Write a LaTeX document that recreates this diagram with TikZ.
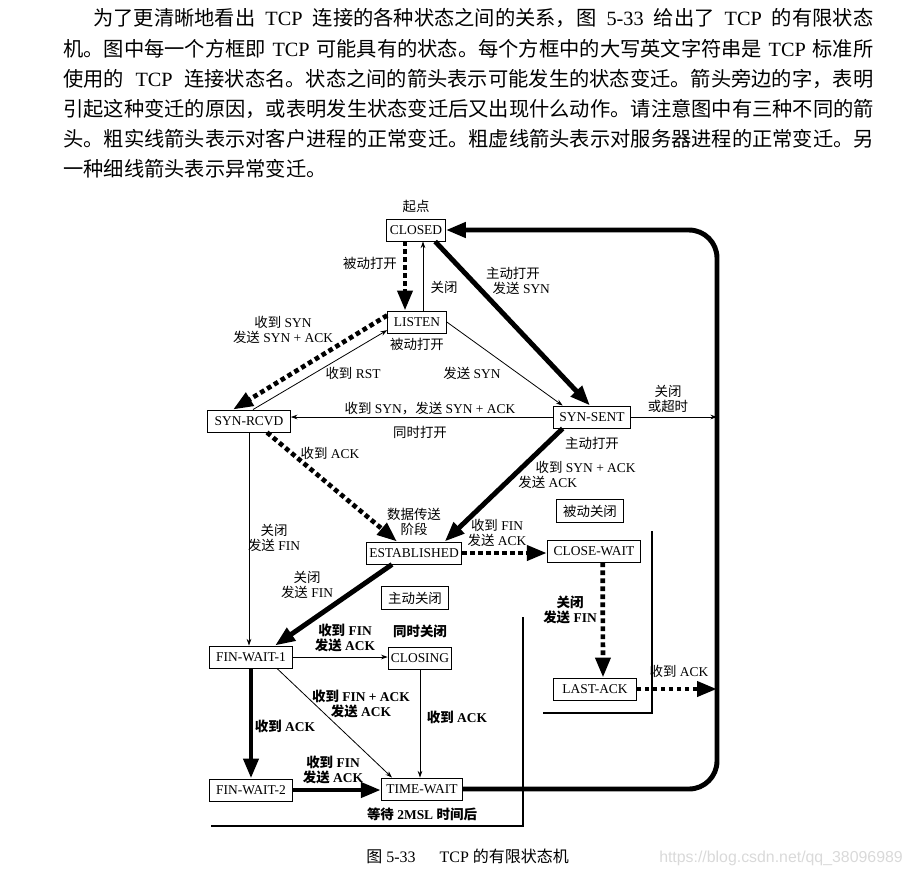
\documentclass[tikz,border=0pt]{standalone}
\usepackage{fontspec}
\setmainfont{Liberation Serif}
\newfontfamily\zhfont{Noto Sans CJK SC}
\newfontfamily\latinfont{Liberation Serif}
\newfontfamily\wmfont{Liberation Sans}
\usetikzlibrary{arrows.meta, positioning, calc}

\definecolor{markgray}{HTML}{D9D9D9}

% CJK runs switch to the CJK font by themselves
\XeTeXinterchartokenstate=1
\newXeTeXintercharclass\zhclass
\newcount\zhcount
\newcommand\zhrange[2]{\zhcount=#1\relax
   \loop\XeTeXcharclass\zhcount=\zhclass\advance\zhcount by 1\relax
   \ifnum\zhcount<#2\relax\repeat}
\zhrange{"3000}{"3040}\zhrange{"4E00}{"A000}\zhrange{"FF00}{"FFF0}
\XeTeXinterchartoks 0 \zhclass = {\zhfont}
\XeTeXinterchartoks 4095 \zhclass = {\zhfont}
\XeTeXinterchartoks \zhclass 0 = {\latinfont}
\XeTeXinterchartoks \zhclass 4095 = {\latinfont}

\newcommand\bodytext{\fontsize{15.2pt}{18pt}\selectfont}
\newcommand\diagtext{\fontsize{10.1pt}{11.8pt}\selectfont}
\newcommand\captext{\fontsize{12pt}{14pt}\selectfont}

\tikzset{
   state/.style={draw, line width=0.7pt, fill=white, font=\diagtext,
      minimum height=16.5pt, inner xsep=2pt, inner ysep=1pt},
   phase/.style={draw, line width=0.7pt, font=\diagtext, inner xsep=5pt, inner ysep=4pt},
   lbl/.style={font=\diagtext, align=center, inner sep=0pt},
   heavy/.style={lbl, font=\diagtext\bfseries},
   para/.style={font=\bodytext, inner sep=0pt, anchor=west},
   client/.style={line width=3.7pt, -{Triangle[length=15pt, width=11pt]}},
   server/.style={line width=3.5pt, dash pattern=on 3.5pt off 2.5pt,
      -{Triangle[length=15pt, width=11pt]}},
   other/.style={line width=0.6pt, -{Stealth[length=5pt, width=3.5pt]}},
   bracket/.style={line width=2pt}
}

\begin{document}
\begin{tikzpicture}[x=0.75pt, y=-0.75pt]
   \useasboundingbox (0,0) rectangle (913,876);
   % Paragraph
   \node[para] (line1) at (93,18) {\makebox[585pt][s]{为了更清晰地看出 TCP 连接的各种状态之间的关系，图 5-33 给出了 TCP 的有限状态}};
   \node[para] (line2) at (63,49) {\makebox[607.5pt][s]{机。图中每一个方框即 TCP 可能具有的状态。每个方框中的大写英文字符串是 TCP 标准所}};
   \node[para] (line3) at (63,79) {\makebox[607.5pt][s]{使用的 TCP 连接状态名。状态之间的箭头表示可能发生的状态变迁。箭头旁边的字，表明}};
   \node[para] (line4) at (63,109) {引起这种变迁的原因，或表明发生状态变迁后又出现什么动作。请注意图中有三种不同的箭};
   \node[para] (line5) at (63,139) {头。粗实线箭头表示对客户进程的正常变迁。粗虚线箭头表示对服务器进程的正常变迁。另};
   \node[para] (line6) at (63,169) {一种细线箭头表示异常变迁。};

   % States
   \node[state, minimum width=44pt] (closed) at (416,230) {CLOSED};
   \node[state, minimum width=44pt] (listen) at (417,322) {LISTEN};
   \node[state, minimum width=62pt] (synrcvd) at (249,421) {SYN-RCVD};
   \node[state, minimum width=58pt] (synsent) at (592,417) {SYN-SENT};
   \node[state, minimum width=70pt] (estab) at (414,553) {ESTABLISHED};
   \node[state, minimum width=70pt] (closewait) at (594,551) {CLOSE-WAIT};
   \node[state, minimum width=62pt] (lastack) at (595,689) {LAST-ACK};
   \node[state, minimum width=62pt] (finwait1) at (251,657) {FIN-WAIT-1};
   \node[state, minimum width=47pt] (closing) at (420,658) {CLOSING};
   \node[state, minimum width=62pt] (finwait2) at (251,790) {FIN-WAIT-2};
   \node[state, minimum width=61pt] (timewait) at (422,789) {TIME-WAIT};
   \node[phase] (passive) at (590,511) {被动关闭};
   \node[phase] (active) at (415,598) {主动关闭};
   \coordinate (rim) at (717,230);

   % Labels next to the states
   \node[lbl, above=4pt of closed] (start) {起点};
   \node[lbl, below=3pt of listen] (listenlbl) {被动打开};
   \node[lbl, below=6pt of synsent] (sentlbl) {主动打开};
   \node[lbl, above=4pt of estab] (establbl) {数据传送\\阶段};
   \node[heavy, above=6pt of closing] (closinglbl) {同时关闭};
   \node[heavy, below=5pt of timewait] (waitlbl) {等待 2MSL 时间后};

   % Server transitions (thick dotted)
   \draw[server] ([xshift=-8.25pt]closed.south) -- ([xshift=-9pt]listen.north);
   \draw[server] ([yshift=5pt]listen.west) -- ([xshift=-12pt]synrcvd.north);
   \draw[server] ([xshift=13.5pt]synrcvd.south) -- ([xshift=-12.75pt]estab.north);
   \draw[server] (estab.east) -- (estab.east -| closewait.west);
   \draw[server] ([xshift=6.5pt]closewait.south) -- ([xshift=6pt]lastack.north);
   \draw[server] (lastack.east) -- (lastack.east -| rim);

   % Client transitions (thick solid)
   \draw[client] ([xshift=-8pt]closed.south east) -- ([xshift=-1.5pt]synsent.north);
   \draw[client] ([xshift=-22pt]synsent.south) -- ([xshift=23pt]estab.north);
   \draw[client] ([xshift=-16.5pt]estab.south) -- ([xshift=18pt]finwait1.north);
   \draw[client] (finwait1.south) -- (finwait2.north);
   \draw[client] (finwait2.east) -- (finwait2.east -| timewait.west);
   \draw[client, rounded corners=21pt] (timewait.east) -| (rim) -- (closed.east);

   % Unusual transitions (thin)
   \draw[other] ([xshift=4.5pt]listen.north) -- ([xshift=5.25pt]closed.south);
   \draw[other] ([xshift=3pt]synrcvd.north) -- ([yshift=2.5pt]listen.south west);
   \draw[other] (listen.east) -- ([xshift=-22pt]synsent.north);
   \draw[other] (synsent.west) -- (synsent.west -| synrcvd.east);
   \draw[other] (synsent.east) -- (synsent.east -| rim);
   \draw[other] (synrcvd.south) -- (synrcvd.south |- finwait1.north);
   \draw[other] (finwait1.east) -- (finwait1.east -| closing.west);
   \draw[other] ([xshift=19.5pt]finwait1.south) -- ([xshift=-22.5pt]timewait.north);
   \draw[other] (closing.south) -- (closing.south |- timewait.north);

   % Brackets of the two closing sides
   \draw[bracket] (652,531) -- (652,713) -- (543,713);
   \draw[bracket] (523,617) -- (523,826) -- (211,826);

   % Transition labels
   \node[lbl] at (370,263) {被动打开};
   \node[lbl] at (444,287) {关闭};
   \node[lbl, align=left] at (518,281) {主动打开\\\hspace*{5pt}发送 SYN};
   \node[lbl] at (283,330) {收到 SYN\\发送 SYN + ACK};
   \node[lbl] at (353,373) {收到 RST};
   \node[lbl] at (472,373) {发送 SYN};
   \node[lbl] at (430,409) {收到 SYN，发送 SYN + ACK};
   \node[lbl] at (420,432) {同时打开};
   \node[lbl] at (668,399) {关闭\\或超时};
   \node[lbl] at (330,453) {收到 ACK};
   \node[lbl, align=left] at (577,475) {\hspace*{13pt}收到 SYN + ACK\\发送 ACK};
   \node[lbl] at (497,533) {收到 FIN\\发送 ACK};
   \node[lbl] at (274,538) {关闭\\发送 FIN};
   \node[lbl] at (307,585) {关闭\\发送 FIN};
   \node[heavy] at (570,610) {关闭\\发送 FIN};
   \node[heavy] at (345,638) {收到 FIN\\发送 ACK};
   \node[lbl] at (679,671) {收到 ACK};
   \node[heavy] at (361,704) {收到 FIN + ACK\\发送 ACK};
   \node[heavy] at (457,717) {收到 ACK};
   \node[heavy] at (285,726) {收到 ACK};
   \node[heavy] at (333,770) {收到 FIN\\发送 ACK};

   % Caption and mark
   \node[font=\captext, inner sep=0pt, anchor=west] (caption) at (366,856) {图 5-33\hspace{1.5em}TCP 的有限状态机};
   \node[font=\wmfont\fontsize{11.9pt}{14pt}\selectfont, text=markgray, inner sep=0pt, anchor=east] (mark) at (903,858) {https://blog.csdn.net/qq\_38096989};
\end{tikzpicture}
\end{document}
